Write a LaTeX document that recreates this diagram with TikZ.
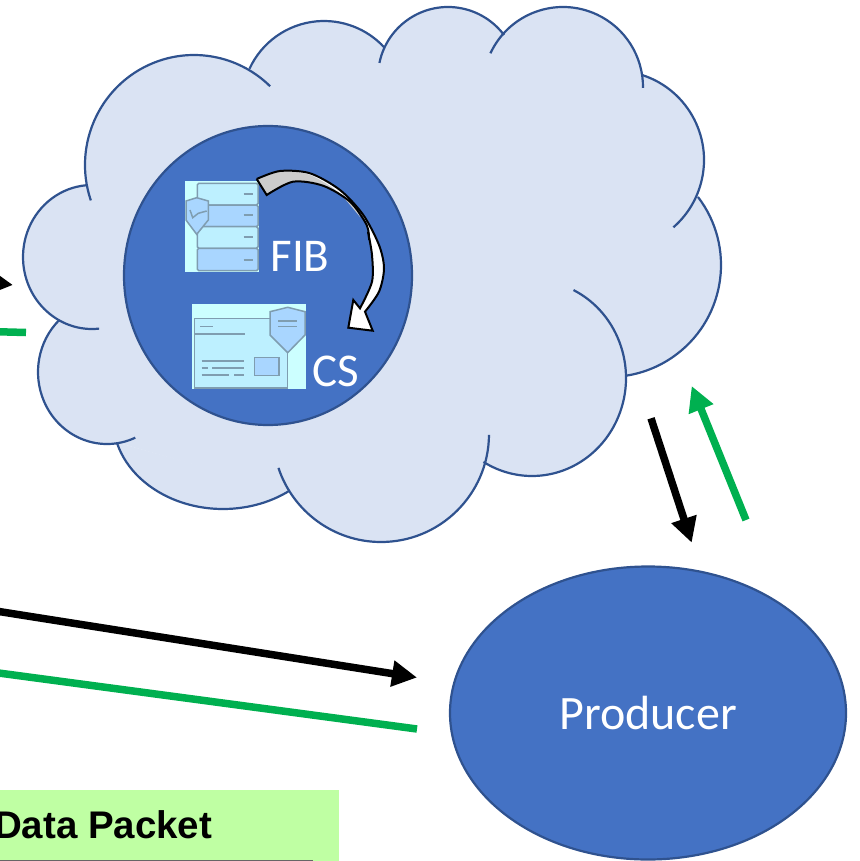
\documentclass[tikz,border=0pt]{standalone}
\usepackage{fontspec}
\setmainfont{Carlito}
\newfontfamily\packetfont{Liberation Sans}
\usetikzlibrary{arrows.meta,shapes.geometric}
\definecolor{cloudblue}{HTML}{DAE3F3}
\definecolor{edgeblue}{HTML}{2F528F}
\definecolor{nodeblue}{HTML}{4472C4}
\definecolor{pathgreen}{HTML}{00B050}
\definecolor{packetgreen}{HTML}{BFFFA3}
\definecolor{iconback}{HTML}{CCFFFF}
\definecolor{iconlight}{HTML}{BDF0FF}
\definecolor{iconfill}{HTML}{A9D6FF}
\definecolor{iconline}{HTML}{7F9DB0}
\tikzset{
  thickpath/.style={line width=7.5pt},
  tipped/.style={thickpath,-{Triangle[length=25pt,width=25pt]}},
  bluenode/.style={draw=edgeblue,fill=nodeblue,line width=2.2pt,text=white,inner sep=0pt},
  iconstroke/.style={draw=iconline,line width=1.5pt},
  rackrow/.style={iconstroke,rounded corners=1.5pt},
  boxlabel/.style={text=white,inner sep=0pt},
  cloudbody/.style={fill=cloudblue,draw=cloudblue,line width=1pt}
}
% one lobe: centre x, centre y, x radius, y radius, start angle, end angle
\def\cloudlobes{194/165/109/110/161.2/314.3,
  324/103/82/82/204.7/317.4,
  448/77/70/70/191.6/323.1,
  563/87/80/80/204.9/360.7,
  614.7/160/89.3/89.3/287.8/408.9,
  609/265/112/112/-37.4/81.4,
  532/378/94/98/-63.8/121.1,
  381/434/108/108/0.5/161.7,
  223/419/110/90/53.1/164.5,
  107/372/69/72/65.8/226,
  92/257/69/72/84.1/265}
\begin{document}
\begin{tikzpicture}[x=1pt,y=1pt,yscale=-1]
  \useasboundingbox (0,0) rectangle (859,861);
  \clip (0,0) rectangle (859,861);
  % cloud
  \path [cloudbody] (86,185) -- (250,69) -- (385,47) -- (504,35) -- (642,75) -- (698,197)
    -- (626,378) -- (484,461) -- (289,491) -- (117,442) -- (59,320) -- cycle;
  \foreach \cx/\cy/\rx/\ry/\sa/\ea in \cloudlobes {
    \path [cloudbody] ({\cx+\rx*cos(\sa)},{\cy+\ry*sin(\sa)}) arc [start angle=\sa,end angle=\ea,x radius=\rx pt,y radius=\ry pt] -- cycle;
  }
  \foreach \cx/\cy/\rx/\ry/\sa/\ea in \cloudlobes {
    \draw [edgeblue,line width=2.2pt] ({\cx+\rx*cos(\sa)},{\cy+\ry*sin(\sa)}) arc [start angle=\sa,end angle=\ea,x radius=\rx pt,y radius=\ry pt];
  }
  \node [bluenode,ellipse,minimum width=288,minimum height=299] (router) at (268,275.5) {};
  % FIB icon
  \fill [iconback] (185,181) rectangle (259,272);
  \draw [rackrow,fill=iconlight] (197.3,183.3) rectangle (258,205);
  \draw [rackrow,fill=iconfill] (197.3,205) rectangle (258,226.7);
  \draw [rackrow,fill=iconlight] (197.3,226.7) rectangle (258,248.3);
  \draw [rackrow,fill=iconfill] (197.3,248.3) rectangle (258,270.7);
  \foreach \y in {194,215,237,260} {
    \draw [iconstroke] (243.7,\y) -- (252.7,\y);
  }
  \draw [iconstroke,fill=iconfill] (186,201) -- (196.7,197.7) -- (208.3,201) -- (208.3,220) -- (196.7,234.3) -- (186,220) -- cycle;
  \draw [iconstroke] (190,210) -- (192.7,217.7) -- (198.3,213.3) -- (206.7,211);
  % CS icon
  \fill [iconback] (192,304) rectangle (306,389.3);
  \draw [iconstroke,fill=iconlight] (194.7,318.3) rectangle (287.7,388);
  \draw [iconstroke,fill=iconfill] (254.7,357.7) rectangle (279,375.7);
  \draw [iconstroke,fill=iconfill] (270,311.7) -- (287.7,307.3) -- (305,311.7) -- (305,335) -- (287.7,352.7) -- (270,335) -- cycle;
  \draw [iconstroke] (278.3,321) -- (296.7,321);
  \draw [iconstroke] (278.3,326.3) -- (296.7,326.3);
  \draw [iconstroke] (200,326.3) -- (213.3,326.3);
  \draw [iconstroke] (194.7,334) -- (245,334);
  \draw [iconstroke] (201.7,361) -- (244,361);
  \draw [iconstroke] (201.7,368) -- (208.3,368);
  \draw [iconstroke] (212.3,368) -- (244,368);
  \draw [iconstroke] (201.7,375) -- (229,375);
  \draw [iconstroke] (234.3,375) -- (244,375);
  % curved arrow
  \fill [white]
    plot [smooth] coordinates {(256.7,179) (280,171) (310,173.3) (340,190) (363.3,215) (379,245) (384,268.3) (379,291.7) (365,311.7)}
    -- (372.7,330.7) -- (348.3,327.7) -- (353.3,300) -- (360,308.3)
    -- plot [smooth] coordinates {(360,308.3) (372,281.7) (372,255) (366.7,225) (350,201.7) (323,185.7) (293,181.7) (266.7,195)} -- cycle;
  \fill [black!20]
    plot [smooth] coordinates {(256.7,179) (280,171) (310,175) (338,192) (360,217)}
    -- plot [smooth] coordinates {(360,217) (350,201.7) (323,185.7) (293,181.7) (266.7,195)} -- cycle;
  \draw [black,line width=2pt,line join=miter]
    plot [smooth] coordinates {(256.7,179) (280,171) (310,173.3) (340,190) (363.3,215) (379,245) (384,268.3) (379,291.7) (365,311.7)}
    -- (372.7,330.7) -- (348.3,327.7) -- (353.3,300) -- (360,308.3)
    -- plot [smooth] coordinates {(360,308.3) (372,281.7) (372,255) (368,232)};
  \draw [black,line width=2pt,line join=miter]
    plot [smooth] coordinates {(369,240) (366.7,225) (350,201.7) (323,185.7) (293,181.7) (266.7,195)} -- (256.7,179);
  \node [boxlabel] (fib) at (300,256) {\fontsize{47}{50}\selectfont FIB};
  \node [boxlabel] (cs) at (335.5,371) {\fontsize{47}{50}\selectfont CS};
  % producer
  \node [bluenode,ellipse,minimum width=396,minimum height=293] (producer) at (648,713) {\fontsize{48}{50}\selectfont Producer};
  % arrows
  \coordinate (leftin) at (-60,276);
  \coordinate (cloudin) at (13,285);
  \coordinate (leftback) at (-30,331);
  \coordinate (cloudback) at (26,332.5);
  \coordinate (cloudout) at (651,418.3);
  \coordinate (producerin) at (691.7,542.7);
  \coordinate (producerout) at (746,520);
  \coordinate (cloudreturn) at (691.7,386);
  \coordinate (senderout) at (-20,608.5);
  \coordinate (producerleft) at (417,677.5);
  \coordinate (senderback) at (-20,670.5);
  \coordinate (producerback) at (417,729);
  \draw [tipped,black] (leftin) -- (cloudin);
  \draw [thickpath,pathgreen] (leftback) -- (cloudback);
  \draw [tipped,black] (cloudout) -- (producerin);
  \draw [tipped,pathgreen] (producerout) -- (cloudreturn);
  \draw [tipped,black] (senderout) -- (producerleft);
  \draw [thickpath,pathgreen] (senderback) -- (producerback);
  % packet legend
  \fill [packetgreen] (0,790) rectangle (339,861);
  \draw [black!60,line width=1.5pt] (0,860.5) -- (313,860.5);
  \node [anchor=base east,inner sep=0pt] (datapacket) at (212.5,838) {\packetfont\bfseries\fontsize{38.5}{41}\selectfont Data Packet};
\end{tikzpicture}
\end{document}
